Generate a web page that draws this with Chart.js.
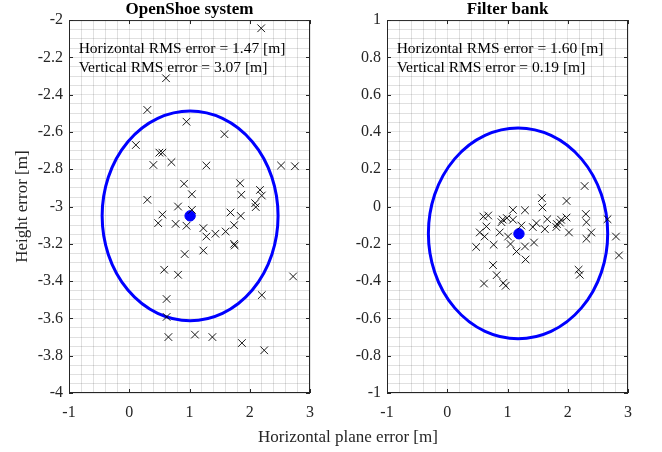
<!DOCTYPE html>
<html>
<head>
<meta charset="utf-8">
<script src="https://cdn.jsdelivr.net/npm/chart.js@4.4.1/dist/chart.umd.min.js"></script>
<style>
  body { margin: 0; background: #fff; }
  #wrap { position: relative; width: 662px; height: 452px; }
  #wrap canvas { position: absolute; top: 0; }
  #xlabel {
    position: absolute; left: 348px; top: 426px; transform: translateX(-50%);
    font: 17px "Liberation Serif", "Times New Roman", serif; line-height: 22px;
    color: #262626; white-space: nowrap;
  }
</style>
</head>
<body>
<div id="wrap">
  <canvas id="left" width="331" height="452" style="left:0"></canvas>
  <canvas id="right" width="331" height="452" style="left:318px"></canvas>
  <div id="xlabel">Horizontal plane error [m]</div>
</div>
<script>
// OpenShoe system: per-run errors
const shoeX = [2.19, 0.61, 0.30, 0.95, 1.58, 0.11, 0.50, 0.55, 0.40, 0.70, 1.28, 2.52, 2.75, 0.91, 1.84,
  0.30, 1.04, 1.86, 2.17, 2.20, 2.09, 0.81, 1.04, 2.10, 0.55, 1.68, 1.85, 0.48, 0.77, 0.95, 1.23, 1.28,
  1.43, 1.60, 1.74, 1.74, 1.75, 1.23, 0.92, 0.58, 0.81, 2.72, 2.20, 0.62, 0.62, 0.65, 1.09, 1.38, 1.87, 2.24];
const shoeY = [-2.044, -2.312, -2.482, -2.545, -2.612, -2.670, -2.711, -2.711, -2.777, -2.762, -2.780, -2.780,
  -2.784, -2.878, -2.875, -2.964, -2.934, -2.937, -2.911, -2.941, -2.982, -3.000, -3.018, -3.003, -3.043,
  -3.032, -3.050, -3.089, -3.093, -3.103, -3.116, -3.161, -3.146, -3.134, -3.100, -3.200, -3.209, -3.236,
  -3.255, -3.339, -3.366, -3.375, -3.475, -3.496, -3.592, -3.700, -3.687, -3.700, -3.732, -3.771];
const shoeMean = [1.01, -3.05];
const shoeEllipse = [1.01, -3.05, 1.46, 0.562]; // centre x, centre y, semi-axis x, semi-axis y
const shoeNotes = ['Horizontal RMS error = 1.47 [m]', 'Vertical RMS error = 3.07 [m]'];

// Filter bank: per-run errors
const bankX = [2.28, 1.57, 1.98, 1.58, 1.09, 1.29, 2.30, 0.60, 0.68, 0.92, 0.99, 1.09, 1.23, 0.65, 0.54,
  0.62, 0.87, 0.90, 1.01, 0.48, 0.77, 1.05, 1.15, 1.29, 2.66, 1.66, 1.98, 1.89, 1.87, 1.82, 2.31, 1.48,
  1.42, 1.62, 1.81, 2.02, 2.39, 2.31, 2.80, 1.44, 2.85, 1.30, 0.76, 0.82, 2.18, 2.20, 0.61, 0.93, 0.97];
const bankY = [0.110, 0.045, 0.030, -0.005, -0.018, -0.020, -0.040, -0.054, -0.048, -0.070, -0.062, -0.071,
  -0.102, -0.107, -0.139, -0.161, -0.139, -0.084, -0.161, -0.217, -0.205, -0.201, -0.241, -0.214, -0.068,
  -0.068, -0.059, -0.071, -0.086, -0.094, -0.084, -0.089, -0.110, -0.121, -0.110, -0.139, -0.139, -0.173,
  -0.161, -0.193, -0.262, -0.284, -0.314, -0.368, -0.339, -0.366, -0.413, -0.410, -0.425];
const bankMean = [1.19, -0.146];
const bankEllipse = [1.175, -0.144, 1.488, 0.565];
const bankNotes = ['Horizontal RMS error = 1.60 [m]', 'Vertical RMS error = 0.19 [m]'];

const SERIF = '"Liberation Serif", "Times New Roman", serif';
const AXIS = '#262626';
Chart.defaults.font.family = SERIF;
Chart.defaults.color = AXIS;

function isMajor(v, step) {
  const r = v / step;
  return Math.abs(r - Math.round(r)) < 1e-6;
}

// ellipse, box, inner tick marks and text notes
const decor = {
  id: 'decor',
  beforeDatasetsDraw(chart, args, o) {
    const {ctx, scales: {x, y}} = chart;
    const e = o.ellipse;
    const cx = x.getPixelForValue(e[0]), cy = y.getPixelForValue(e[1]);
    const rx = Math.abs(x.getPixelForValue(e[0] + e[2]) - cx);
    const ry = Math.abs(y.getPixelForValue(e[1] + e[3]) - cy);
    ctx.save();
    ctx.strokeStyle = '#0000ff';
    ctx.lineWidth = 3;
    ctx.beginPath();
    ctx.ellipse(cx, cy, rx, ry, 0, 0, 2 * Math.PI);
    ctx.stroke();
    ctx.restore();
  },
  afterDraw(chart, args, o) {
    const {ctx, chartArea: a, scales: {x, y}} = chart;
    ctx.save();
    ctx.strokeStyle = AXIS;
    ctx.lineWidth = 1;
    ctx.strokeRect(a.left + 0.5, a.top + 0.5, a.right - a.left - 1, a.bottom - a.top - 1);
    ctx.beginPath();
    x.ticks.forEach(t => {
      if (!isMajor(t.value, 1)) return;
      const px = Math.round(x.getPixelForValue(t.value)) + 0.5;
      ctx.moveTo(px, a.bottom); ctx.lineTo(px, a.bottom - 4);
      ctx.moveTo(px, a.top); ctx.lineTo(px, a.top + 4);
    });
    y.ticks.forEach(t => {
      if (!isMajor(t.value, 0.2)) return;
      const py = Math.round(y.getPixelForValue(t.value)) + 0.5;
      ctx.moveTo(a.left, py); ctx.lineTo(a.left + 4, py);
      ctx.moveTo(a.right, py); ctx.lineTo(a.right - 4, py);
    });
    ctx.stroke();
    ctx.fillStyle = '#000';
    ctx.font = '15.5px ' + SERIF;
    ctx.textAlign = 'left';
    ctx.textBaseline = 'middle';
    o.notes.forEach((txt, i) => {
      ctx.fillText(txt, x.getPixelForValue(o.noteX), y.getPixelForValue(o.noteY[i]));
    });
    ctx.restore();
  }
};

function makeChart(id, title, xs, ys, mean, ell, notes, noteY, yMin, yMax, yTitle) {
  const pts = xs.map((v, i) => ({x: v, y: ys[i]}));
  new Chart(document.getElementById(id), {
    type: 'scatter',
    data: {
      datasets: [{
        data: pts,
        pointStyle: 'crossRot',
        radius: 5.4,
        borderColor: '#000',
        borderWidth: 0.9
      }, {
        data: [{x: mean[0], y: mean[1]}],
        pointStyle: 'circle',
        radius: 5.2,
        backgroundColor: '#0000ff',
        borderColor: '#0000ff'
      }]
    },
    options: {
      responsive: false,
      animation: false,
      layout: {padding: {right: 21}},
      plugins: {
        legend: {display: false},
        tooltip: {enabled: false},
        title: {
          display: true, text: title, color: '#000', fullSize: false,
          font: {size: 17, weight: 'bold', lineHeight: 1.18},
          padding: {top: 0, bottom: 0}
        },
        decor: {ellipse: ell, notes: notes, noteX: -0.84, noteY: noteY}
      },
      scales: {
        x: {
          type: 'linear', min: -1, max: 3,
          afterFit: s => { s.height = 59; },
          border: {display: false},
          grid: {
            drawTicks: false,
            color: c => isMajor(c.tick.value, 1) ? 'rgba(38,38,38,0.12)' : 'rgba(38,38,38,0.14)',
            borderDash: c => isMajor(c.tick.value, 1) ? [] : [1, 2]
          },
          ticks: {
            stepSize: 0.2, autoSkip: false, maxRotation: 0, padding: 10,
            font: {size: 16},
            callback: v => isMajor(v, 1) ? String(Math.round(v)) : ''
          }
        },
        y: {
          type: 'linear', min: yMin, max: yMax,
          afterFit: s => { s.width = 69; },
          border: {display: false},
          title: {
            display: !!yTitle, text: yTitle || '', color: AXIS,
            font: {size: 17}, padding: {top: 12, bottom: 0}
          },
          grid: {
            drawTicks: false,
            color: c => isMajor(c.tick.value, 0.2) ? 'rgba(38,38,38,0.12)' : 'rgba(38,38,38,0.14)',
            borderDash: c => isMajor(c.tick.value, 0.2) ? [] : [1, 2]
          },
          ticks: {
            stepSize: 0.05, autoSkip: false, padding: 6,
            font: {size: 16},
            callback: v => isMajor(v, 0.2) ? String(Number(v.toFixed(1)) || 0) : ''
          }
        }
      }
    },
    plugins: [decor]
  });
}

makeChart('left', 'OpenShoe system', shoeX, shoeY, shoeMean, shoeEllipse, shoeNotes,
  [-2.157, -2.259], -4, -2, 'Height error [m]');
makeChart('right', 'Filter bank', bankX, bankY, bankMean, bankEllipse, bankNotes,
  [0.843, 0.741], -1, 1, null);
</script>
</body>
</html>
